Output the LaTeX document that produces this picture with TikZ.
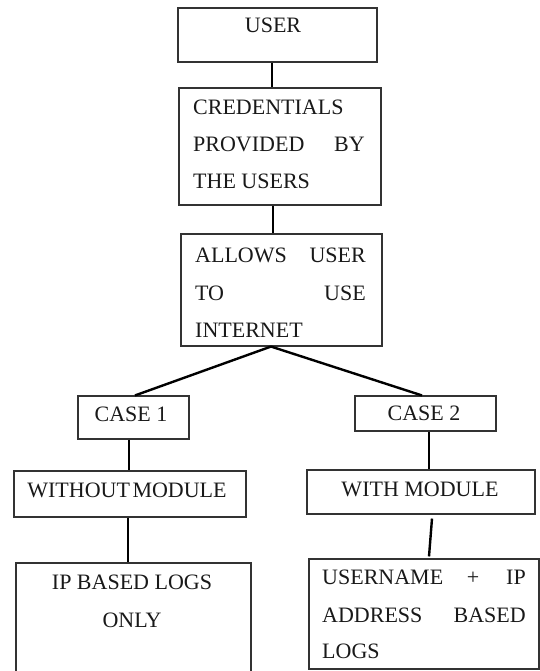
\documentclass[tikz,border=0pt]{standalone}
\usepackage{fontspec}
\setmainfont{Liberation Serif}
\begin{document}
\begin{tikzpicture}[x=1pt,y=-1pt,
  box/.style={draw=black!80,line width=1.1pt,inner sep=0pt,fill=none},
  link/.style={draw=black,line width=2.4pt},
  txt/.style={inner sep=0pt,font=\fontsize{22}{26}\selectfont,text=black!90}]
\useasboundingbox (0,0) rectangle (540,671);

% boxes
\node[box,minimum width=199pt,minimum height=54pt]  (user)  at (277.5,35) {};
\node[box,minimum width=202pt,minimum height=117pt] (cred)  at (280,146.5) {};
\node[box,minimum width=201pt,minimum height=112pt] (allow) at (281.5,290) {};
\node[box,minimum width=111pt,minimum height=43pt]  (case1) at (133.5,417.5) {};
\node[box,minimum width=141pt,minimum height=35pt]  (case2) at (425.5,413.5) {};
\node[box,minimum width=232pt,minimum height=46pt]  (wo)    at (130,494) {};
\node[box,minimum width=228pt,minimum height=44pt]  (wm)    at (421,492) {};
\node[box,minimum width=235pt,minimum height=130pt] (ip)    at (133.5,628) {};
\node[box,minimum width=230pt,minimum height=110pt] (un)    at (424,614) {};

% texts
\node[txt,anchor=base] (tuser) at (273,33) {USER};

\node[txt,anchor=base west] (tc1) at (193,115) {CREDENTIALS};
\node[txt,anchor=base west] (tc2) at (193,152) {PROVIDED};
\node[txt,anchor=base east] (tc3) at (365,152) {BY};
\node[txt,anchor=base west] (tc4) at (193,188) {THE USERS};

\node[txt,anchor=base west] (ta1) at (195,262) {ALLOWS};
\node[txt,anchor=base east] (ta2) at (366,262) {USER};
\node[txt,anchor=base west] (ta3) at (195,300) {TO};
\node[txt,anchor=base east] (ta4) at (366,300) {USE};
\node[txt,anchor=base west] (ta5) at (195,337) {INTERNET};

\node[txt,anchor=base] (tcase1) at (131,421) {CASE 1};
\node[txt,anchor=base] (tcase2) at (424,420) {CASE 2};
\node[txt,anchor=base] (two) at (127,497) {WITHOUT\hspace{2.5pt}MODULE};
\node[txt,anchor=base] (twm) at (420,496) {WITH MODULE};

\node[txt,anchor=base] (tip1) at (132,589) {IP BASED LOGS};
\node[txt,anchor=base] (tip2) at (132,627) {ONLY};

\node[txt,anchor=base west] (tu1) at (322,584) {USERNAME};
\node[txt,anchor=base]      (tu2) at (473,584) {+};
\node[txt,anchor=base east] (tu3) at (526,584) {IP};
\node[txt,anchor=base west] (tu4) at (322,622) {ADDRESS};
\node[txt,anchor=base east] (tu5) at (526,622) {BASED};
\node[txt,anchor=base west] (tu6) at (322,658) {LOGS};

% connectors
\draw[link] ([xshift=-5.5pt]user.south) -- ([xshift=-8pt]cred.north);
\draw[link] ([xshift=-7pt]cred.south) -- ([xshift=-8.5pt]allow.north);
\coordinate (apex) at ([xshift=-10.5pt]allow.south);
\draw[link] (apex) -- ([xshift=1.5pt]case1.north);
\draw[link] (apex) -- ([xshift=-3.5pt]case2.north);
\draw[link] ([xshift=-4.5pt]case1.south) -- ([xshift=-1pt]wo.north);
\draw[link] ([xshift=-2pt]wo.south) -- ([xshift=-5.5pt]ip.north);
\draw[link] ([xshift=3.5pt]case2.south) -- ([xshift=8pt]wm.north);
\draw[link] ([xshift=11pt,yshift=-4pt]wm.south) -- ([xshift=5pt,yshift=2pt]un.north);
\end{tikzpicture}
\end{document}
